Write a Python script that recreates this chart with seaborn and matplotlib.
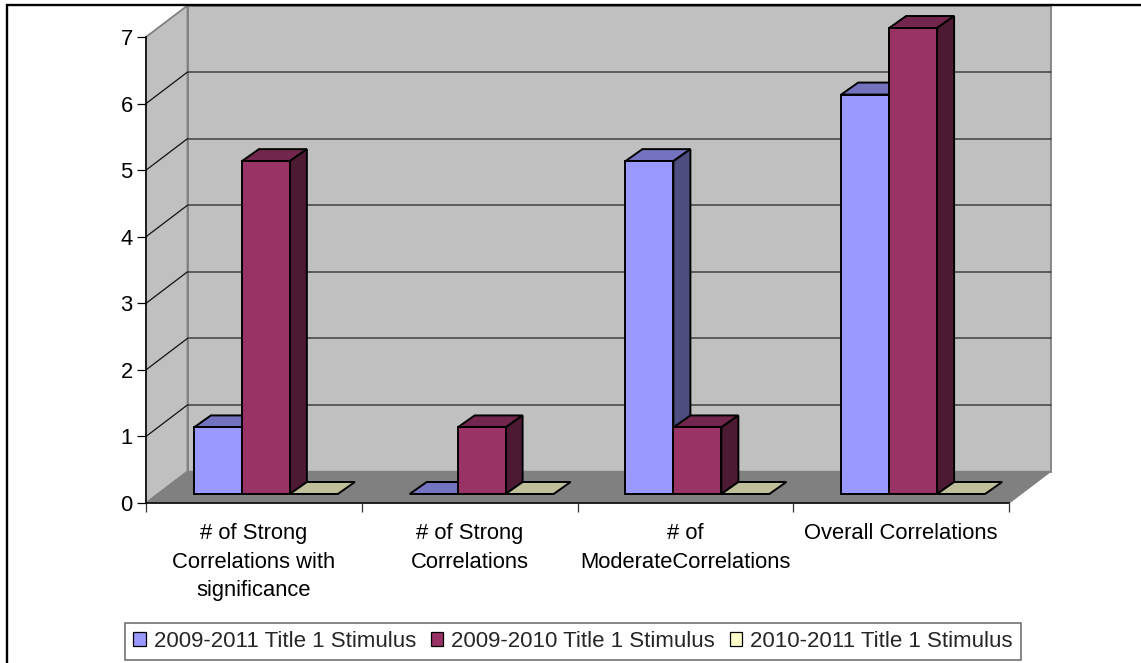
import matplotlib
matplotlib.use("Agg")
import matplotlib.pyplot as plt
from matplotlib.lines import Line2D
from matplotlib.patches import Polygon, Rectangle
from matplotlib.transforms import Affine2D
import pandas as pd
import seaborn as sns

categories = ["# of Strong\nCorrelations with\nsignificance",
              "# of Strong\nCorrelations",
              "# of\nModerateCorrelations",
              "Overall Correlations"]
series_names = ["2009-2011 Title 1 Stimulus",
                "2009-2010 Title 1 Stimulus",
                "2010-2011 Title 1 Stimulus"]
values_2009_2011 = [1, 0, 5, 6]
values_2009_2010 = [5, 1, 1, 7]
values_2010_2011 = [0, 0, 0, 0]

front_colors = ["#9999FF", "#993366", "#FFFFCC"]
top_colors = ["#7373BF", "#73264D", "#BFBF99"]
side_colors = ["#4D4D80", "#4D1A33", "#80806A"]

W, H = 1141, 663
AX_L, AX_R, AX_T, AX_B = 146, 1009, 37, 503

sns.set_theme(style="white")
plt.rcParams["font.family"] = ["Liberation Sans", "DejaVu Sans"]

df = pd.DataFrame({
    "category": categories * 3,
    "series": [s for s in series_names for _ in categories],
    "value": values_2009_2011 + values_2009_2010 + values_2010_2011,
})

fig = plt.figure(figsize=(W / 100, H / 100), dpi=100, facecolor="white")
ax = fig.add_axes([AX_L / W, 1 - AX_B / H, (AX_R - AX_L) / W, (AX_B - AX_T) / H])

sns.barplot(data=df, x="category", y="value", hue="series", hue_order=series_names,
            palette=front_colors, saturation=1, width=0.667, gap=0, dodge=True,
            edgecolor="black", linewidth=1.4, legend=False, ax=ax)

ax.set_xlim(-0.5, 3.5)
ax.set_ylim(0, 7)
ax.set_facecolor("none")
ax.set_xlabel("")
ax.set_ylabel("")

# pixel sizes of the oblique projection, converted to data units
px_x = 4 / (AX_R - AX_L)
px_y = 7 / (AX_B - AX_T)
wall_dx, wall_dy = 41.5 * px_x, 31.5 * px_y
bar_dx, bar_dy = 17 * px_x, 12 * px_y

# back wall, side wall and floor
wall_style = dict(clip_on=False, zorder=0.5, edgecolor="#808080", linewidth=1.3)
ax.add_patch(Rectangle((-0.5 + wall_dx, wall_dy), 4, 7, facecolor="#C0C0C0", **wall_style))
ax.add_patch(Polygon([(-0.5, 0), (-0.5, 7), (-0.5 + wall_dx, 7 + wall_dy), (-0.5 + wall_dx, wall_dy)],
                     closed=True, facecolor="#C0C0C0", **wall_style))
ax.add_patch(Polygon([(-0.5, 0), (-0.5 + wall_dx, wall_dy), (3.5 + wall_dx, wall_dy), (3.5, 0)],
                     closed=True, facecolor="#808080", clip_on=False, zorder=0.6,
                     edgecolor="#808080", linewidth=1))

# gridlines run along the back wall and down the side wall
for level in range(1, 7):
    ax.plot([-0.5 + wall_dx, 3.5 + wall_dx], [level + wall_dy] * 2, color="#404040", lw=1.1,
            clip_on=False, zorder=0.7)
    ax.plot([-0.5, -0.5 + wall_dx], [level, level + wall_dy], color="#111111", lw=0.9,
            clip_on=False, zorder=0.7)

# bars sit partway into the floor; extrude each one to give it depth
offset = ax.transData + Affine2D().translate(12, 9)
for j, container in enumerate(ax.containers):
    for bar in container:
        x, w, h = bar.get_x(), bar.get_width(), bar.get_height()
        base = 3 + j
        bar.set_transform(offset)
        bar.set_clip_on(False)
        bar.set_zorder(base + 0.2)
        top = Polygon([(x, h), (x + bar_dx, h + bar_dy), (x + w + bar_dx, h + bar_dy), (x + w, h)],
                      closed=True, facecolor=top_colors[j], edgecolor="black", linewidth=1.4,
                      transform=offset, clip_on=False, zorder=base)
        ax.add_patch(top)
        if h > 0:
            side = Polygon([(x + w, 0), (x + w + bar_dx, bar_dy), (x + w + bar_dx, h + bar_dy), (x + w, h)],
                           closed=True, facecolor=side_colors[j], edgecolor="black", linewidth=1.4,
                           transform=offset, clip_on=False, zorder=base + 0.1)
            ax.add_patch(side)

# axes lines and ticks
sns.despine(ax=ax, top=True, right=True)
for name in ("left", "bottom"):
    ax.spines[name].set_color("black")
    ax.spines[name].set_linewidth(1.1)
    ax.spines[name].set_zorder(2)
ax.set_yticks(range(0, 8))
ax.tick_params(axis="y", which="major", left=True, length=6.5, width=0.9, color="black",
               labelsize=15.8, labelcolor="black", pad=3)
ax.set_xticks(range(4))
ax.set_xticklabels(categories, linespacing=1.45)
ax.set_xticks([-0.5, 0.5, 1.5, 2.5, 3.5], minor=True)
ax.tick_params(axis="x", which="major", bottom=False, length=0, labelsize=15.8,
               labelcolor="black", pad=14.7)
ax.tick_params(axis="x", which="minor", bottom=True, length=6.5, width=0.9, color="#333333")

# legend along the bottom of the chart area
handles = [Rectangle((0, 0), 1, 1, facecolor=c, edgecolor="black", linewidth=0.9) for c in front_colors]
legend = fig.legend(handles, series_names, ncols=3, loc="center",
                    bbox_to_anchor=(573 / W, 1 - 641.5 / H),
                    borderaxespad=0, fontsize=16, frameon=True, fancybox=False,
                    edgecolor="#666666", facecolor="white", framealpha=1,
                    handlelength=0.55, handleheight=0.55, handletextpad=0.37, columnspacing=0.66,
                    borderpad=0.36)
legend.get_frame().set_linewidth(1.1)

# chart frame: top and left edges
fig.add_artist(Line2D([7 / W, 7 / W], [0, 1 - 5 / H], color="black", lw=1.7))
fig.add_artist(Line2D([7 / W, 1], [1 - 5 / H, 1 - 5 / H], color="black", lw=1.7))

fig.savefig("out.png", dpi=100, facecolor="white")
